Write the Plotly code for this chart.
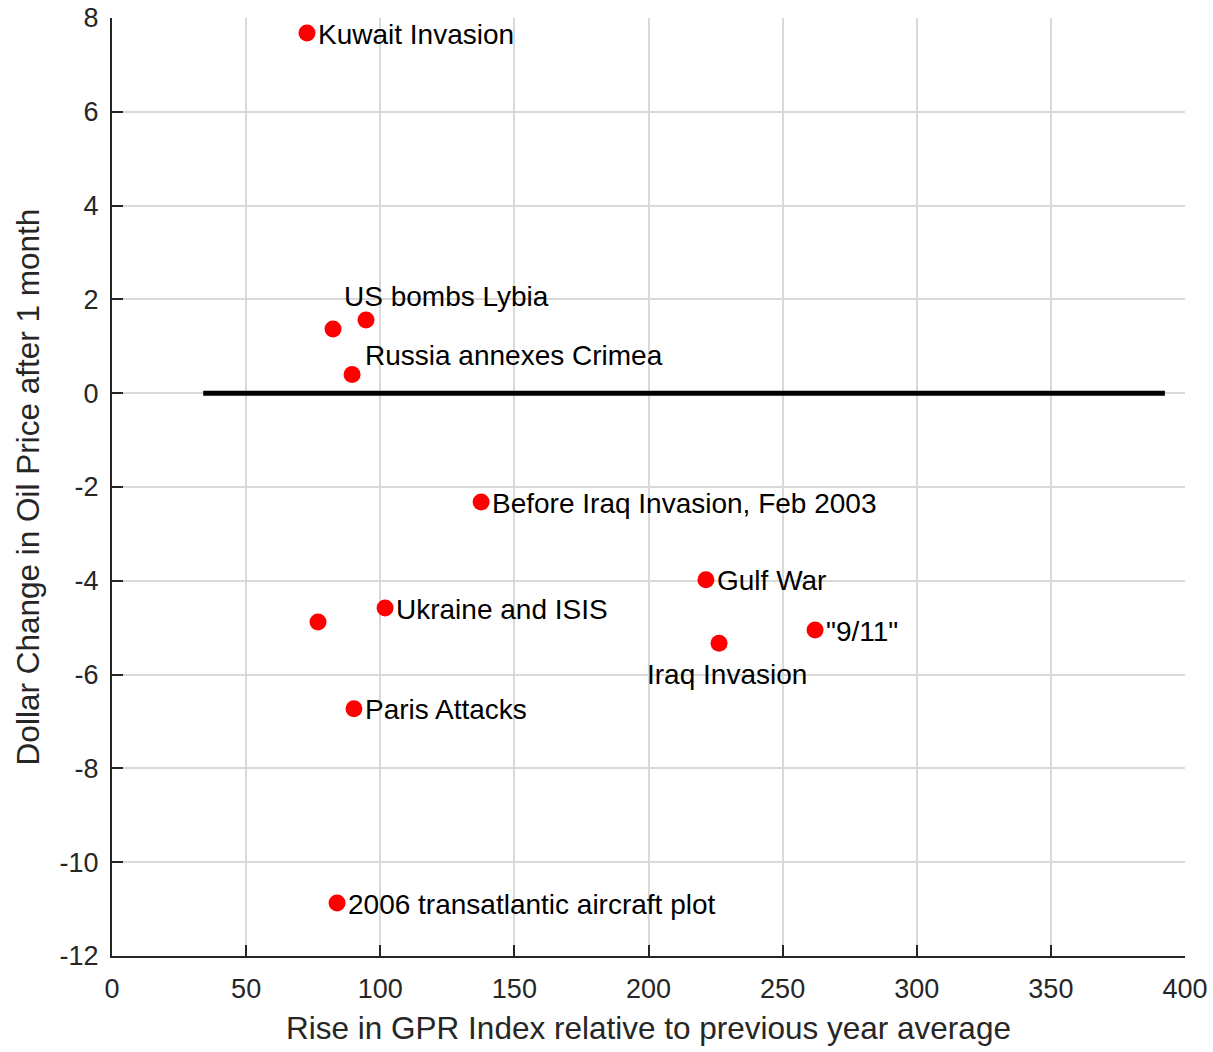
import plotly.graph_objects as go

# Geopolitical events: GPR index rise vs. oil price change one month later
events = ["Kuwait Invasion", "", "US bombs Lybia", "Russia annexes Crimea",
          "Before Iraq Invasion, Feb 2003", "Gulf War", "Ukraine and ISIS", "",
          "Iraq Invasion", "\"9/11\"", "Paris Attacks", "2006 transatlantic aircraft plot"]
gpr_rise = [72.7, 82.4, 94.7, 89.5, 137.6, 221.4, 101.8, 76.8, 226.3, 262.1, 90.2, 83.9]
oil_change = [7.68, 1.37, 1.56, 0.40, -2.32, -3.98, -4.58, -4.88, -5.33, -5.05, -6.73, -10.87]

# label placement relative to each marker (pixel offsets, anchors)
label_pos = {
    "US bombs Lybia": dict(xanchor="center", yanchor="bottom", xshift=80, yshift=6),
    "Russia annexes Crimea": dict(xanchor="left", yanchor="bottom", xshift=11, yshift=1),
    "Iraq Invasion": dict(xanchor="center", yanchor="top", xshift=8, yshift=-14),
}

# reference line at zero change
zero_line_x = [34, 392.5]
zero_line_y = [0, 0]

x_ticks = [0, 50, 100, 150, 200, 250, 300, 350, 400]
y_ticks = [8, 6, 4, 2, 0, -2, -4, -6, -8, -10, -12]

FONT = "Liberation Sans, Arial, Helvetica"
AXIS_COLOR = "#262626"

fig = go.Figure()
fig.add_trace(go.Scatter(x=zero_line_x, y=zero_line_y, mode="lines",
                         line=dict(color="black", width=5), hoverinfo="skip"))
fig.add_trace(go.Scatter(x=gpr_rise, y=oil_change, mode="markers",
                         marker=dict(color="#ff0000", size=17, line=dict(width=0))))

for name, xv, yv in zip(events, gpr_rise, oil_change):
    if not name:
        continue
    pos = label_pos.get(name, dict(xanchor="left", yanchor="middle", xshift=9, yshift=-1))
    fig.add_annotation(x=xv, y=yv, text=name, showarrow=False,
                       font=dict(size=28, color="black", family=FONT),
                       **pos)

axis_common = dict(
    showgrid=True, gridcolor="#d9d9d9", gridwidth=1.5,
    showline=True, linecolor=AXIS_COLOR, linewidth=2.2,
    ticks="inside", ticklen=11, tickwidth=2.2, tickcolor=AXIS_COLOR,
    tickfont=dict(size=27, color=AXIS_COLOR, family=FONT),
    zeroline=False, mirror=False, automargin=False,
)

fig.update_xaxes(range=[0, 400], tickvals=x_ticks,
                 ticktext=[str(v) for v in x_ticks], ticklabelstandoff=7,
                 **axis_common,
                 title=dict(text="Rise in GPR Index relative to previous year average",
                            font=dict(size=31.5, color=AXIS_COLOR, family=FONT),
                            standoff=14))
fig.update_yaxes(range=[-12, 8], tickvals=y_ticks,
                 ticktext=[str(v) for v in y_ticks], ticklabelstandoff=6,
                 **axis_common,
                 title=dict(text="Dollar Change in Oil Price after 1 month",
                            font=dict(size=31.5, color=AXIS_COLOR, family=FONT),
                            standoff=10))

fig.update_layout(
    width=1213, height=1052,
    margin=dict(l=112, r=28, t=18, b=96),
    plot_bgcolor="white", paper_bgcolor="white",
    showlegend=False,
)

fig.write_html("out.html")
